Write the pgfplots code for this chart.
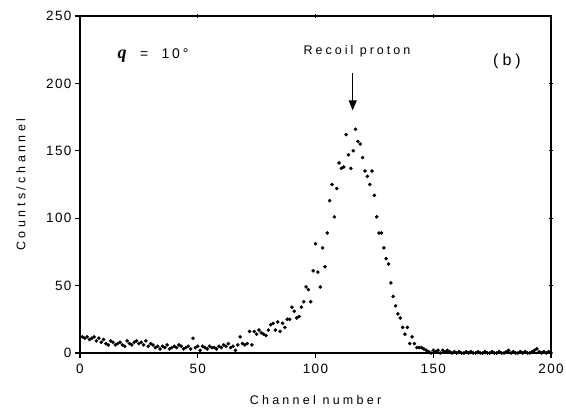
\documentclass[border=0pt]{standalone}
\usepackage{pgfplots}
\pgfplotsset{compat=1.18}
\usepackage{fontspec}
\setmainfont{Liberation Sans}
\newfontfamily\serifbi{Liberation Serif}
\usetikzlibrary{arrows.meta,calc}
\pgfplotstableread{
ch c
1 12
2 11
3 12
4 10
5 11
6 12
7 9
8 11
9 8
10 10
11 7
12 6
13 9
14 8
15 6
16 7
17 8
18 6
19 5
20 9
21 7
22 6
23 8
24 9
25 7
26 8
27 6
28 9
29 5
30 7
31 6
32 4
33 5
34 3
35 5
36 4
37 6
38 3
39 4
40 5
41 4
42 6
43 5
44 3
45 4
46 5
47 3
48 11
49 4
50 5
51 2
52 5
53 4
54 3
55 5
56 4
57 4
58 3
59 5
60 4
61 6
62 5
63 7
64 4
65 5
66 2
67 6
68 12
69 7
70 6
71 7
72 16
73 6
74 16
75 14
76 17
77 15
78 14
79 13
80 17
81 21
82 22
83 17
84 23
85 16
86 22
87 19
88 25
89 25
90 34
91 31
92 26
93 27
94 34
95 38
96 49
97 47
98 38
99 61
100 81
101 60
102 49
103 78
104 64
105 89
106 113
107 125
108 101
109 122
110 141
111 137
112 138
113 162
114 147
115 137
116 150
117 166
118 157
119 155
120 145
121 135
122 131
123 125
124 135
125 117
126 101
127 89
128 89
129 78
130 70
131 66
132 52
133 42
134 35
135 29
136 26
137 19
138 14
139 19
140 7
141 12
142 7
143 4
144 4
145 4
146 3
147 2
148 1
149 0
150 2
151 1
152 2
153 0
154 2
155 1
156 2
157 1
158 0
159 1
160 0
161 1
162 0
163 0
164 1
165 0
166 1
167 0
168 0
169 1
170 0
171 0
172 1
173 0
174 0
175 1
176 0
177 0
178 1
179 0
180 0
181 1
182 2
183 0
184 1
185 0
186 0
187 1
188 0
189 1
190 0
191 0
192 1
193 2
194 3
195 1
196 0
197 1
198 0
199 1
200 0
}\datatable
\begin{document}
\begin{tikzpicture}
\begin{axis}[
  scale only axis, width=471pt, height=337pt,
  xmin=0, xmax=200, ymin=0, ymax=250,
  xtick={0,50,100,150,200}, ytick={0,50,100,150,200,250},
  tick align=outside, tick pos=left,
  major tick length=5pt,
  axis line style={line width=1.2pt},
  every tick/.style={black, line width=1.2pt},
  /pgf/number format/assume math mode=true,
  tick label style={font=\fontsize{13.5}{15}\selectfont\addfontfeature{LetterSpace=10}},
  xticklabel style={yshift=-3pt},
  xlabel={\addfontfeature{LetterSpace=26}Channel number},
  ylabel={\addfontfeature{LetterSpace=28}Counts/channel},
  label style={font=\fontsize{12.5}{14}\selectfont},
  xlabel style={yshift=-14pt},
  ylabel style={yshift=14pt},
  clip=false,
]
\addplot[only marks, mark=*, mark size=1.6pt, black] table[x=ch, y=c] {\datatable};
\coordinate (ll) at (rel axis cs:0,0);
\coordinate (ur) at (rel axis cs:1,1);
\draw[line width=1.2pt] (axis cs:50,250) ++(0,-2pt) -- ++(0,4pt);
\draw[line width=1.2pt] (axis cs:100,250) ++(0,-2pt) -- ++(0,4pt);
\draw[line width=1.2pt] (axis cs:150,250) ++(0,-2pt) -- ++(0,4pt);
\draw[line width=1.2pt] (axis cs:200,50) ++(-2pt,0) -- ++(4pt,0);
\draw[line width=1.2pt] (axis cs:200,100) ++(-2pt,0) -- ++(4pt,0);
\draw[line width=1.2pt] (axis cs:200,150) ++(-2pt,0) -- ++(4pt,0);
\draw[line width=1.2pt] (axis cs:200,200) ++(-2pt,0) -- ++(4pt,0);
\node[anchor=west, font=\fontsize{14}{16}\selectfont] at (axis cs:14.5,221)
  {{\fontsize{18}{18}\selectfont\serifbi\bfseries\itshape q}\addfontfeature{LetterSpace=20}\ \ = \ 10°};
\node[font=\fontsize{12.5}{15}\selectfont] at (axis cs:117.6,224)
  {\addfontfeature{LetterSpace=24}Recoil proton};
\draw[line width=1.2pt, -{Triangle[length=10pt,width=8pt]}] (axis cs:115.8,208) -- (axis cs:115.8,180);
\node[font=\fontsize{16}{18}\selectfont] at (axis cs:181.3,216.5)
  {\addfontfeature{LetterSpace=25}(b)};
\end{axis}
\pgfresetboundingbox
\path ($(ll)+(-80pt,-62pt)$) rectangle ($(ur)+(15pt,16pt)$);
\end{tikzpicture}
\end{document}
